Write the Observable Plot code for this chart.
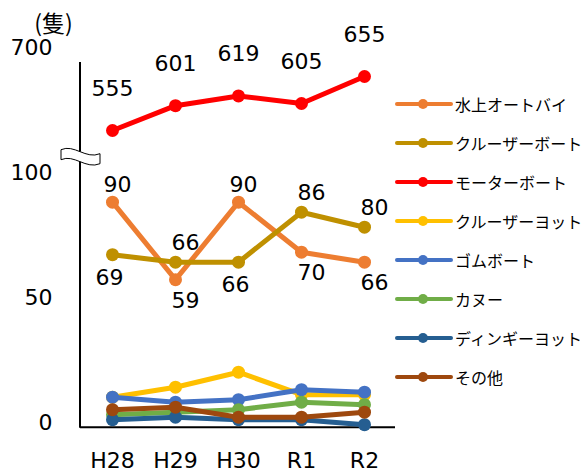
<!DOCTYPE html>
<html>
<head>
<meta charset="utf-8">
<script src="https://cdn.jsdelivr.net/npm/d3@7"></script>
<script src="https://cdn.jsdelivr.net/npm/@observablehq/plot@0.6"></script>
<style>
  html, body { margin: 0; padding: 0; background: #fff; }
  #chart { position: relative; width: 583px; height: 472px; }
  #legend { position: absolute; left: 395px; top: 84px; font-family: "Noto Sans CJK JP", sans-serif; font-size: 16px; color: #000; }
  #legend .row { display: flex; align-items: center; height: 39px; }
  #legend svg { margin-right: 2px; }
</style>
</head>
<body>
<div id="chart"></div>
<script>
// Fiscal years
const years = ["H28", "H29", "H30", "R1", "R2"];

// Series names (vessel types)
const seriesNames = ["水上オートバイ", "クルーザーボート", "モーターボート", "クルーザーヨット", "ゴムボート", "カヌー", "ディンギーヨット", "その他"];

// Counts per series (隻)
const jetSki       = [90, 59, 90, 70, 66];
const cruiserBoat  = [69, 66, 66, 86, 80];
const motorBoat    = [555, 601, 619, 605, 655];
const cruiserYacht = [12, 16, 22, 13, 13];
const rubberBoat   = [12, 10, 11, 15, 14];
const canoe        = [5, 6, 7, 10, 9];
const dinghyYacht  = [3, 4, 3, 3, 1];
const others       = [7, 8, 4, 4, 6];

const seriesValues = [jetSki, cruiserBoat, motorBoat, cruiserYacht, rubberBoat, canoe, dinghyYacht, others];
const seriesColors = ["#ED7D31", "#BF9000", "#FF0000", "#FFC000", "#4472C4", "#70AD47", "#255E91", "#9E480E"];

// Value labels are shown for the three largest series; placement codes per point
const labelled = {
  "水上オートバイ":   ["n", "se", "n", "se", "se"],
  "クルーザーボート": ["s", "ne", "s", "ne", "ne"],
  "モーターボート":   ["up", "up", "up", "up", "up"]
};
const placement = {
  up: {dx: 0, dy: -42},
  n:  {dx: 5, dy: -17},
  ne: {dx: 10, dy: -19},
  se: {dx: 10, dy: 21},
  s:  {dx: -3, dy: 23}
};

// Y axis tick values
const yTicks = [0, 50, 100, 700];

// Broken axis: 0–100 at full scale, 100–500 squeezed into the break,
// 500–700 at a compressed scale
function brokenY(v) {
  if (v <= 100) return v;
  if (v <= 500) return 100 + (v - 100) * (6.8 / 400);
  return 106.8 + (v - 500) * 0.216;
}

const rows = seriesNames.flatMap((name, i) =>
  years.map((year, j) => ({
    series: name,
    year,
    value: seriesValues[i][j],
    pos: labelled[name] ? labelled[name][j] : null
  }))
);

const font = "'DejaVu Sans', 'Noto Sans CJK JP', sans-serif";
const yOf = d => brokenY(d.value);

const seriesMarks = seriesNames.flatMap((name, i) => {
  const d = rows.filter(r => r.series === name);
  return [
    Plot.line(d, {x: "year", y: yOf, stroke: seriesColors[i], strokeWidth: 5, strokeLinejoin: "round", strokeLinecap: "round"}),
    Plot.dot(d, {x: "year", y: yOf, fill: seriesColors[i], r: 6.5})
  ];
});

const labelMarks = Object.entries(placement).map(([code, p]) =>
  Plot.text(rows.filter(r => r.pos === code), {
    x: "year", y: yOf, text: d => String(d.value),
    dx: p.dx, dy: p.dy, fontSize: 22, fill: "#000"
  })
);

const tickLabel = new Map(yTicks.map(t => [brokenY(t), String(t)]));

const plot = Plot.plot({
  width: 583,
  height: 472,
  marginLeft: 80,
  marginRight: 188,
  marginTop: 52,
  marginBottom: 45,
  style: {fontFamily: font, background: "#fff", color: "#000"},
  x: {type: "point", domain: years, padding: 0.5},
  y: {domain: [0, brokenY(700)], range: [426.7, 51.7]},
  marks: [
    Plot.axisY({ticks: yTicks.map(brokenY), tickFormat: t => tickLabel.get(t), tickSize: 0, tickPadding: 28, fontSize: 22, dy: -4, label: null}),
    Plot.axisX({tickSize: 0, tickPadding: 25, fontSize: 22, label: null}),
    Plot.ruleY([0], {stroke: "#000", strokeWidth: 2}),
    ...seriesMarks,
    ...labelMarks,
    Plot.text(["(隻)"], {frameAnchor: "top-left", textAnchor: "middle", lineAnchor: "middle", dx: -27, dy: -28, fontSize: 23, fontFamily: "'Noto Sans CJK JP', sans-serif", fill: "#000"})
  ]
});

// Vertical axis line with a break symbol between the two ranges
const y = plot.scale("y");
const svg = d3.select(plot);
svg.insert("line", ":first-child")
  .attr("x1", 80).attr("x2", 80)
  .attr("y1", y.apply(brokenY(681))).attr("y2", y.apply(0) + 1)
  .attr("stroke", "#000").attr("stroke-width", 2);
const yb = y.apply(brokenY(500)) - 4;
svg.append("path")
  .attr("transform", `translate(80,${yb})`)
  .attr("d", "M-19,-6 C-6,-12 6,4 20,-2 L20,8 C6,14 -6,-2 -19,4 Z")
  .attr("fill", "#fff").attr("stroke", "#000").attr("stroke-width", 1);

const chart = document.getElementById("chart");
chart.appendChild(plot);

// Legend
const legend = d3.select(chart).append("div").attr("id", "legend");
seriesNames.forEach((name, i) => {
  const row = legend.append("div").attr("class", "row");
  const sw = row.append("svg").attr("width", 58).attr("height", 14);
  sw.append("line").attr("x1", 2).attr("x2", 56).attr("y1", 7).attr("y2", 7)
    .attr("stroke", seriesColors[i]).attr("stroke-width", 4).attr("stroke-linecap", "round");
  sw.append("circle").attr("cx", 28).attr("cy", 7).attr("r", 5).attr("fill", seriesColors[i]);
  row.append("span").text(name);
});
</script>
</body>
</html>
